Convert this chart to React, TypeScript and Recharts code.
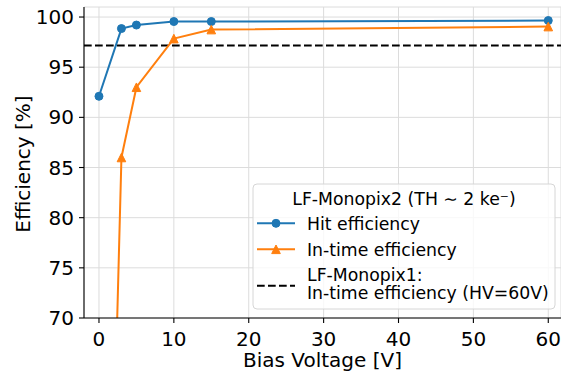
import {
  LineChart, Line, XAxis, YAxis, CartesianGrid, ReferenceLine, Label,
} from 'recharts'

const biasVoltage = [0, 3, 5, 10, 15, 60]
const hitEfficiency = [92.1, 98.85, 99.2, 99.55, 99.55, 99.65]
const inTimeEfficiency = [1, 86, 93, 97.85, 98.75, 99.05]
const monopix1InTime = 97.15

const xTicks = [0, 10, 20, 30, 40, 50, 60]
const yTicks = [70, 75, 80, 85, 90, 95, 100]

const BLUE = '#1f77b4'
const ORANGE = '#ff7f0e'
const FONT = '"DejaVu Sans", sans-serif'
const AXIS_FONT = 20
const LEGEND_FONT = 17.3

const data = biasVoltage.map((v, i) => ({
  bias: v,
  hit: hitEfficiency[i],
  inTime: inTimeEfficiency[i],
}))

const CircleDot = (props: any) => {
  const { cx, cy, index } = props
  if (cx == null || cy == null) return <g key={index} />
  return <circle key={index} cx={cx} cy={cy} r={4} fill={BLUE} stroke={BLUE} strokeWidth={1} />
}

const TriangleDot = (props: any) => {
  const { cx, cy, index } = props
  if (cx == null || cy == null) return <g key={index} />
  const s = 4.3
  return (
    <polygon
      key={index}
      points={`${cx},${cy - s} ${cx - s},${cy + s} ${cx + s},${cy + s}`}
      fill={ORANGE}
      stroke={ORANGE}
      strokeWidth={1}
    />
  )
}

const YLabel = (props: any) => {
  const vb = props.viewBox || { x: 0, y: 0, width: 0, height: 0 }
  const x = 29.5
  const y = vb.y + vb.height / 2 + 1.5
  return (
    <text
      x={x}
      y={y}
      transform={`rotate(-90 ${x} ${y})`}
      textAnchor="middle"
      fontFamily={FONT}
      fontSize={AXIS_FONT}
      fill="#000"
    >
      Efficiency [%]
    </text>
  )
}

function LegendBox() {
  const left = 253
  const top = 184
  const w = 302
  const h = 125
  const tx = 308 - left
  const row = (y: number) => y - top + 1
  return (
    <svg
      width={w + 2}
      height={h + 2}
      style={{ position: 'absolute', left: left - 1, top: top - 1, overflow: 'visible' }}
      fontFamily={FONT}
      fontSize={LEGEND_FONT}
    >
      <rect x={1} y={1} width={w} height={h} rx={4} fill="rgba(255,255,255,0.8)" stroke="#d6d6d6" strokeWidth={1} />
      <text x={1 + w / 2} y={row(205)} textAnchor="middle" fill="#000">
        LF-Monopix2 (TH ∼ 2 ke⁻)
      </text>
      <line x1={5} x2={43} y1={row(223.3)} y2={row(223.3)} stroke={BLUE} strokeWidth={2} />
      <circle cx={24} cy={row(223.3)} r={4} fill={BLUE} stroke={BLUE} strokeWidth={1} />
      <text x={tx} y={row(230)} fill="#000">Hit efficiency</text>
      <line x1={5} x2={43} y1={row(249.3)} y2={row(249.3)} stroke={ORANGE} strokeWidth={2} />
      <polygon
        points={`24,${row(249.3) - 4.3} 19.7,${row(249.3) + 4.3} 28.3,${row(249.3) + 4.3}`}
        fill={ORANGE}
        stroke={ORANGE}
        strokeWidth={1}
      />
      <text x={tx} y={row(256)} fill="#000">In-time efficiency</text>
      <line x1={5} x2={43} y1={row(285.7)} y2={row(285.7)} stroke="#000" strokeWidth={2} strokeDasharray="7.7 3.3" />
      <text x={tx} y={row(281)} fill="#000">LF-Monopix1:</text>
      <text x={tx} y={row(299)} fill="#000">In-time efficiency (HV=60V)</text>
    </svg>
  )
}

export default function App() {
  return (
    <div style={{ position: 'absolute', left: 0, top: 0, width: 561, height: 378, overflow: 'hidden', background: '#fff' }}>
      <LineChart
        width={561}
        height={378}
        data={data}
        margin={{ top: 7, right: 0, bottom: 0, left: 0 }}
      >
        <CartesianGrid stroke="#dcdcdc" strokeWidth={1} vertical horizontal />
        <XAxis
          dataKey="bias"
          type="number"
          domain={[-2, 61.7]}
          ticks={xTicks}
          allowDataOverflow
          height={60}
          tickSize={5}
          tickMargin={9}
          tickLine={{ stroke: '#000', strokeWidth: 1.1 }}
          axisLine={{ stroke: '#000', strokeWidth: 1.1 }}
          tick={{ fill: '#000', fontSize: AXIS_FONT, fontFamily: FONT }}
        >
          <Label
            value="Bias Voltage [V]"
            position="insideBottom"
            offset={11}
            style={{ fill: '#000', fontSize: AXIS_FONT, fontFamily: FONT }}
          />
        </XAxis>
        <XAxis
          xAxisId="top"
          orientation="top"
          dataKey="bias"
          type="number"
          domain={[-2, 61.7]}
          height={0}
          tick={false}
          tickLine={false}
          axisLine={{ stroke: '#000', strokeWidth: 1.1 }}
        />
        <YAxis
          type="number"
          domain={[70, 101]}
          ticks={yTicks}
          allowDataOverflow
          width={84}
          tickSize={5}
          tickMargin={5}
          tickLine={{ stroke: '#000', strokeWidth: 1.1 }}
          axisLine={{ stroke: '#000', strokeWidth: 1.1 }}
          tick={{ fill: '#000', fontSize: AXIS_FONT, fontFamily: FONT }}
          label={<YLabel />}
        />
        <ReferenceLine
          y={monopix1InTime}
          stroke="#000"
          strokeWidth={2}
          strokeDasharray="7.7 3.3"
        />
        <Line
          dataKey="hit"
          type="linear"
          stroke={BLUE}
          strokeWidth={2}
          dot={CircleDot}
          activeDot={false}
          isAnimationActive={false}
        />
        <Line
          dataKey="inTime"
          type="linear"
          stroke={ORANGE}
          strokeWidth={2}
          dot={TriangleDot}
          activeDot={false}
          isAnimationActive={false}
        />
      </LineChart>
      <LegendBox />
    </div>
  )
}
